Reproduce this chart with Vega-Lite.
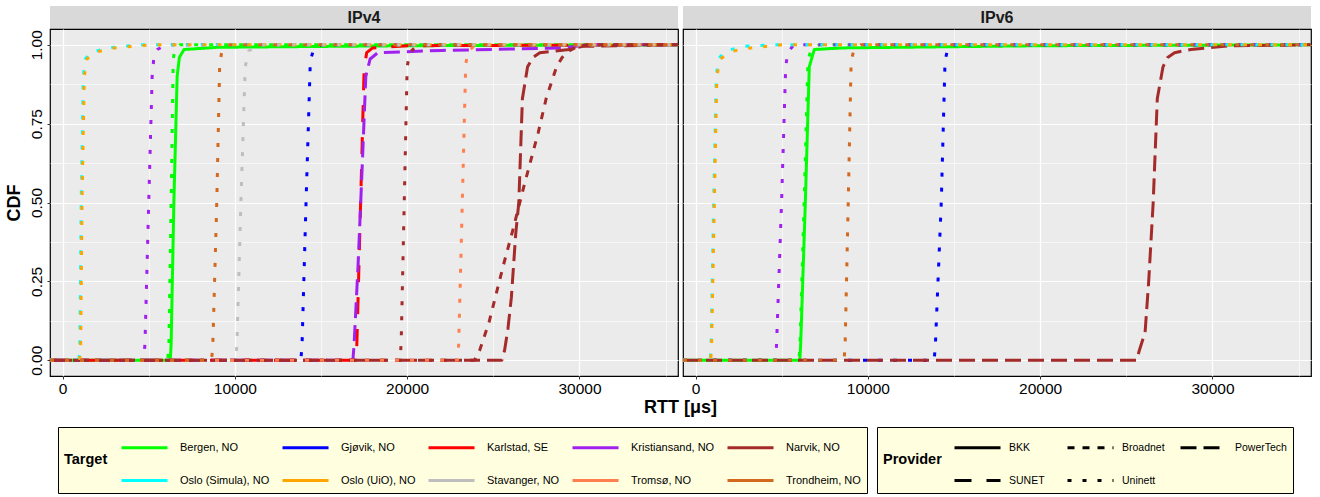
{
  "$schema": "https://vega.github.io/schema/vega-lite/v6.json",
  "padding": {"left": 4, "top": 6, "right": 5, "bottom": 5},
  "background": "white",
  "config": {"font": "Liberation Sans"},
  "datasets": {
    "panels": [{"panel": "IPv4"}, {"panel": "IPv6"}],
    "lines": [
      {"panel":"IPv4","target":"Bergen, NO","provider":"BKK","rtt":-730,"cdf":0},
      {"panel":"IPv4","target":"Bergen, NO","provider":"BKK","rtt":6250,"cdf":0},
      {"panel":"IPv4","target":"Bergen, NO","provider":"BKK","rtt":6300,"cdf":0.05},
      {"panel":"IPv4","target":"Bergen, NO","provider":"BKK","rtt":6460,"cdf":0.5},
      {"panel":"IPv4","target":"Bergen, NO","provider":"BKK","rtt":6650,"cdf":0.9},
      {"panel":"IPv4","target":"Bergen, NO","provider":"BKK","rtt":6780,"cdf":0.96},
      {"panel":"IPv4","target":"Bergen, NO","provider":"BKK","rtt":7050,"cdf":0.985},
      {"panel":"IPv4","target":"Bergen, NO","provider":"BKK","rtt":9000,"cdf":0.992},
      {"panel":"IPv4","target":"Bergen, NO","provider":"BKK","rtt":20000,"cdf":0.997},
      {"panel":"IPv4","target":"Bergen, NO","provider":"BKK","rtt":35720,"cdf":1},

      {"panel":"IPv4","target":"Bergen, NO","provider":"Uninett","rtt":-730,"cdf":0},
      {"panel":"IPv4","target":"Bergen, NO","provider":"Uninett","rtt":6100,"cdf":0},
      {"panel":"IPv4","target":"Bergen, NO","provider":"Uninett","rtt":6170,"cdf":0.05},
      {"panel":"IPv4","target":"Bergen, NO","provider":"Uninett","rtt":6300,"cdf":0.5},
      {"panel":"IPv4","target":"Bergen, NO","provider":"Uninett","rtt":6420,"cdf":0.95},
      {"panel":"IPv4","target":"Bergen, NO","provider":"Uninett","rtt":6500,"cdf":0.985},
      {"panel":"IPv4","target":"Bergen, NO","provider":"Uninett","rtt":6800,"cdf":1},
      {"panel":"IPv4","target":"Bergen, NO","provider":"Uninett","rtt":35720,"cdf":1},

      {"panel":"IPv4","target":"Gjøvik, NO","provider":"Uninett","rtt":-730,"cdf":0},
      {"panel":"IPv4","target":"Gjøvik, NO","provider":"Uninett","rtt":13830,"cdf":0},
      {"panel":"IPv4","target":"Gjøvik, NO","provider":"Uninett","rtt":13900,"cdf":0.05},
      {"panel":"IPv4","target":"Gjøvik, NO","provider":"Uninett","rtt":14130,"cdf":0.5},
      {"panel":"IPv4","target":"Gjøvik, NO","provider":"Uninett","rtt":14380,"cdf":0.95},
      {"panel":"IPv4","target":"Gjøvik, NO","provider":"Uninett","rtt":14600,"cdf":0.99},
      {"panel":"IPv4","target":"Gjøvik, NO","provider":"Uninett","rtt":15000,"cdf":1},
      {"panel":"IPv4","target":"Gjøvik, NO","provider":"Uninett","rtt":35720,"cdf":1},

      {"panel":"IPv4","target":"Karlstad, SE","provider":"SUNET","rtt":-730,"cdf":0},
      {"panel":"IPv4","target":"Karlstad, SE","provider":"SUNET","rtt":17020,"cdf":0},
      {"panel":"IPv4","target":"Karlstad, SE","provider":"SUNET","rtt":17080,"cdf":0.05},
      {"panel":"IPv4","target":"Karlstad, SE","provider":"SUNET","rtt":17300,"cdf":0.5},
      {"panel":"IPv4","target":"Karlstad, SE","provider":"SUNET","rtt":17500,"cdf":0.92},
      {"panel":"IPv4","target":"Karlstad, SE","provider":"SUNET","rtt":17650,"cdf":0.975},
      {"panel":"IPv4","target":"Karlstad, SE","provider":"SUNET","rtt":18000,"cdf":0.99},
      {"panel":"IPv4","target":"Karlstad, SE","provider":"SUNET","rtt":20000,"cdf":0.997},
      {"panel":"IPv4","target":"Karlstad, SE","provider":"SUNET","rtt":35720,"cdf":1},

      {"panel":"IPv4","target":"Kristiansand, NO","provider":"PowerTech","rtt":-730,"cdf":0},
      {"panel":"IPv4","target":"Kristiansand, NO","provider":"PowerTech","rtt":16850,"cdf":0},
      {"panel":"IPv4","target":"Kristiansand, NO","provider":"PowerTech","rtt":16920,"cdf":0.05},
      {"panel":"IPv4","target":"Kristiansand, NO","provider":"PowerTech","rtt":17150,"cdf":0.3},
      {"panel":"IPv4","target":"Kristiansand, NO","provider":"PowerTech","rtt":17380,"cdf":0.6},
      {"panel":"IPv4","target":"Kristiansand, NO","provider":"PowerTech","rtt":17600,"cdf":0.9},
      {"panel":"IPv4","target":"Kristiansand, NO","provider":"PowerTech","rtt":17850,"cdf":0.955},
      {"panel":"IPv4","target":"Kristiansand, NO","provider":"PowerTech","rtt":18300,"cdf":0.975},
      {"panel":"IPv4","target":"Kristiansand, NO","provider":"PowerTech","rtt":22000,"cdf":0.982},
      {"panel":"IPv4","target":"Kristiansand, NO","provider":"PowerTech","rtt":29000,"cdf":0.99},
      {"panel":"IPv4","target":"Kristiansand, NO","provider":"PowerTech","rtt":30500,"cdf":1},
      {"panel":"IPv4","target":"Kristiansand, NO","provider":"PowerTech","rtt":35720,"cdf":1},

      {"panel":"IPv4","target":"Kristiansand, NO","provider":"Uninett","rtt":-730,"cdf":0},
      {"panel":"IPv4","target":"Kristiansand, NO","provider":"Uninett","rtt":4700,"cdf":0},
      {"panel":"IPv4","target":"Kristiansand, NO","provider":"Uninett","rtt":4780,"cdf":0.05},
      {"panel":"IPv4","target":"Kristiansand, NO","provider":"Uninett","rtt":5000,"cdf":0.5},
      {"panel":"IPv4","target":"Kristiansand, NO","provider":"Uninett","rtt":5200,"cdf":0.9},
      {"panel":"IPv4","target":"Kristiansand, NO","provider":"Uninett","rtt":5300,"cdf":0.96},
      {"panel":"IPv4","target":"Kristiansand, NO","provider":"Uninett","rtt":5500,"cdf":0.985},
      {"panel":"IPv4","target":"Kristiansand, NO","provider":"Uninett","rtt":6000,"cdf":1},
      {"panel":"IPv4","target":"Kristiansand, NO","provider":"Uninett","rtt":35720,"cdf":1},

      {"panel":"IPv4","target":"Narvik, NO","provider":"Uninett","rtt":-730,"cdf":0},
      {"panel":"IPv4","target":"Narvik, NO","provider":"Uninett","rtt":19580,"cdf":0},
      {"panel":"IPv4","target":"Narvik, NO","provider":"Uninett","rtt":19650,"cdf":0.05},
      {"panel":"IPv4","target":"Narvik, NO","provider":"Uninett","rtt":19830,"cdf":0.5},
      {"panel":"IPv4","target":"Narvik, NO","provider":"Uninett","rtt":20000,"cdf":0.93},
      {"panel":"IPv4","target":"Narvik, NO","provider":"Uninett","rtt":20150,"cdf":0.975},
      {"panel":"IPv4","target":"Narvik, NO","provider":"Uninett","rtt":20600,"cdf":1},
      {"panel":"IPv4","target":"Narvik, NO","provider":"Uninett","rtt":35720,"cdf":1},

      {"panel":"IPv4","target":"Narvik, NO","provider":"PowerTech","rtt":-730,"cdf":0},
      {"panel":"IPv4","target":"Narvik, NO","provider":"PowerTech","rtt":25500,"cdf":0},
      {"panel":"IPv4","target":"Narvik, NO","provider":"PowerTech","rtt":25650,"cdf":0.03},
      {"panel":"IPv4","target":"Narvik, NO","provider":"PowerTech","rtt":25850,"cdf":0.1},
      {"panel":"IPv4","target":"Narvik, NO","provider":"PowerTech","rtt":26050,"cdf":0.2},
      {"panel":"IPv4","target":"Narvik, NO","provider":"PowerTech","rtt":26300,"cdf":0.4},
      {"panel":"IPv4","target":"Narvik, NO","provider":"PowerTech","rtt":26480,"cdf":0.5},
      {"panel":"IPv4","target":"Narvik, NO","provider":"PowerTech","rtt":26690,"cdf":0.83},
      {"panel":"IPv4","target":"Narvik, NO","provider":"PowerTech","rtt":26990,"cdf":0.93},
      {"panel":"IPv4","target":"Narvik, NO","provider":"PowerTech","rtt":27300,"cdf":0.96},
      {"panel":"IPv4","target":"Narvik, NO","provider":"PowerTech","rtt":27700,"cdf":0.975},
      {"panel":"IPv4","target":"Narvik, NO","provider":"PowerTech","rtt":29400,"cdf":0.985},
      {"panel":"IPv4","target":"Narvik, NO","provider":"PowerTech","rtt":30200,"cdf":0.995},
      {"panel":"IPv4","target":"Narvik, NO","provider":"PowerTech","rtt":35720,"cdf":1},

      {"panel":"IPv4","target":"Narvik, NO","provider":"Broadnet","rtt":-730,"cdf":0},
      {"panel":"IPv4","target":"Narvik, NO","provider":"Broadnet","rtt":23900,"cdf":0},
      {"panel":"IPv4","target":"Narvik, NO","provider":"Broadnet","rtt":24200,"cdf":0.03},
      {"panel":"IPv4","target":"Narvik, NO","provider":"Broadnet","rtt":24750,"cdf":0.12},
      {"panel":"IPv4","target":"Narvik, NO","provider":"Broadnet","rtt":25580,"cdf":0.3},
      {"panel":"IPv4","target":"Narvik, NO","provider":"Broadnet","rtt":26170,"cdf":0.42},
      {"panel":"IPv4","target":"Narvik, NO","provider":"Broadnet","rtt":26770,"cdf":0.55},
      {"panel":"IPv4","target":"Narvik, NO","provider":"Broadnet","rtt":27600,"cdf":0.72},
      {"panel":"IPv4","target":"Narvik, NO","provider":"Broadnet","rtt":28070,"cdf":0.83},
      {"panel":"IPv4","target":"Narvik, NO","provider":"Broadnet","rtt":28670,"cdf":0.93},
      {"panel":"IPv4","target":"Narvik, NO","provider":"Broadnet","rtt":29000,"cdf":0.96},
      {"panel":"IPv4","target":"Narvik, NO","provider":"Broadnet","rtt":29260,"cdf":0.976},
      {"panel":"IPv4","target":"Narvik, NO","provider":"Broadnet","rtt":29730,"cdf":0.99},
      {"panel":"IPv4","target":"Narvik, NO","provider":"Broadnet","rtt":30500,"cdf":1},
      {"panel":"IPv4","target":"Narvik, NO","provider":"Broadnet","rtt":35720,"cdf":1},

      {"panel":"IPv4","target":"Oslo (Simula), NO","provider":"Uninett","rtt":-730,"cdf":0},
      {"panel":"IPv4","target":"Oslo (Simula), NO","provider":"Uninett","rtt":950,"cdf":0},
      {"panel":"IPv4","target":"Oslo (Simula), NO","provider":"Uninett","rtt":1000,"cdf":0.05},
      {"panel":"IPv4","target":"Oslo (Simula), NO","provider":"Uninett","rtt":1080,"cdf":0.5},
      {"panel":"IPv4","target":"Oslo (Simula), NO","provider":"Uninett","rtt":1200,"cdf":0.9},
      {"panel":"IPv4","target":"Oslo (Simula), NO","provider":"Uninett","rtt":1320,"cdf":0.955},
      {"panel":"IPv4","target":"Oslo (Simula), NO","provider":"Uninett","rtt":1600,"cdf":0.975},
      {"panel":"IPv4","target":"Oslo (Simula), NO","provider":"Uninett","rtt":2600,"cdf":0.99},
      {"panel":"IPv4","target":"Oslo (Simula), NO","provider":"Uninett","rtt":4500,"cdf":1},
      {"panel":"IPv4","target":"Oslo (Simula), NO","provider":"Uninett","rtt":35720,"cdf":1},

      {"panel":"IPv4","target":"Oslo (UiO), NO","provider":"Uninett","rtt":-730,"cdf":0},
      {"panel":"IPv4","target":"Oslo (UiO), NO","provider":"Uninett","rtt":1000,"cdf":0},
      {"panel":"IPv4","target":"Oslo (UiO), NO","provider":"Uninett","rtt":1050,"cdf":0.05},
      {"panel":"IPv4","target":"Oslo (UiO), NO","provider":"Uninett","rtt":1130,"cdf":0.5},
      {"panel":"IPv4","target":"Oslo (UiO), NO","provider":"Uninett","rtt":1260,"cdf":0.9},
      {"panel":"IPv4","target":"Oslo (UiO), NO","provider":"Uninett","rtt":1420,"cdf":0.955},
      {"panel":"IPv4","target":"Oslo (UiO), NO","provider":"Uninett","rtt":1800,"cdf":0.975},
      {"panel":"IPv4","target":"Oslo (UiO), NO","provider":"Uninett","rtt":3000,"cdf":0.99},
      {"panel":"IPv4","target":"Oslo (UiO), NO","provider":"Uninett","rtt":5200,"cdf":1},
      {"panel":"IPv4","target":"Oslo (UiO), NO","provider":"Uninett","rtt":35720,"cdf":1},

      {"panel":"IPv4","target":"Stavanger, NO","provider":"Uninett","rtt":-730,"cdf":0},
      {"panel":"IPv4","target":"Stavanger, NO","provider":"Uninett","rtt":10050,"cdf":0},
      {"panel":"IPv4","target":"Stavanger, NO","provider":"Uninett","rtt":10120,"cdf":0.05},
      {"panel":"IPv4","target":"Stavanger, NO","provider":"Uninett","rtt":10350,"cdf":0.5},
      {"panel":"IPv4","target":"Stavanger, NO","provider":"Uninett","rtt":10600,"cdf":0.93},
      {"panel":"IPv4","target":"Stavanger, NO","provider":"Uninett","rtt":10800,"cdf":0.98},
      {"panel":"IPv4","target":"Stavanger, NO","provider":"Uninett","rtt":11300,"cdf":1},
      {"panel":"IPv4","target":"Stavanger, NO","provider":"Uninett","rtt":35720,"cdf":1},

      {"panel":"IPv4","target":"Tromsø, NO","provider":"Uninett","rtt":-730,"cdf":0},
      {"panel":"IPv4","target":"Tromsø, NO","provider":"Uninett","rtt":22920,"cdf":0},
      {"panel":"IPv4","target":"Tromsø, NO","provider":"Uninett","rtt":22990,"cdf":0.05},
      {"panel":"IPv4","target":"Tromsø, NO","provider":"Uninett","rtt":23200,"cdf":0.5},
      {"panel":"IPv4","target":"Tromsø, NO","provider":"Uninett","rtt":23400,"cdf":0.94},
      {"panel":"IPv4","target":"Tromsø, NO","provider":"Uninett","rtt":23550,"cdf":0.98},
      {"panel":"IPv4","target":"Tromsø, NO","provider":"Uninett","rtt":24000,"cdf":1},
      {"panel":"IPv4","target":"Tromsø, NO","provider":"Uninett","rtt":35720,"cdf":1},

      {"panel":"IPv4","target":"Trondheim, NO","provider":"Uninett","rtt":-730,"cdf":0},
      {"panel":"IPv4","target":"Trondheim, NO","provider":"Uninett","rtt":8650,"cdf":0},
      {"panel":"IPv4","target":"Trondheim, NO","provider":"Uninett","rtt":8720,"cdf":0.05},
      {"panel":"IPv4","target":"Trondheim, NO","provider":"Uninett","rtt":8950,"cdf":0.5},
      {"panel":"IPv4","target":"Trondheim, NO","provider":"Uninett","rtt":9120,"cdf":0.94},
      {"panel":"IPv4","target":"Trondheim, NO","provider":"Uninett","rtt":9250,"cdf":0.98},
      {"panel":"IPv4","target":"Trondheim, NO","provider":"Uninett","rtt":9600,"cdf":1},
      {"panel":"IPv4","target":"Trondheim, NO","provider":"Uninett","rtt":35720,"cdf":1},

      {"panel":"IPv6","target":"Bergen, NO","provider":"BKK","rtt":-730,"cdf":0},
      {"panel":"IPv6","target":"Bergen, NO","provider":"BKK","rtt":6050,"cdf":0},
      {"panel":"IPv6","target":"Bergen, NO","provider":"BKK","rtt":6100,"cdf":0.05},
      {"panel":"IPv6","target":"Bergen, NO","provider":"BKK","rtt":6370,"cdf":0.5},
      {"panel":"IPv6","target":"Bergen, NO","provider":"BKK","rtt":6600,"cdf":0.93},
      {"panel":"IPv6","target":"Bergen, NO","provider":"BKK","rtt":6890,"cdf":0.985},
      {"panel":"IPv6","target":"Bergen, NO","provider":"BKK","rtt":8500,"cdf":0.99},
      {"panel":"IPv6","target":"Bergen, NO","provider":"BKK","rtt":20000,"cdf":0.997},
      {"panel":"IPv6","target":"Bergen, NO","provider":"BKK","rtt":35720,"cdf":1},

      {"panel":"IPv6","target":"Bergen, NO","provider":"Uninett","rtt":-730,"cdf":0},
      {"panel":"IPv6","target":"Bergen, NO","provider":"Uninett","rtt":6000,"cdf":0},
      {"panel":"IPv6","target":"Bergen, NO","provider":"Uninett","rtt":6060,"cdf":0.05},
      {"panel":"IPv6","target":"Bergen, NO","provider":"Uninett","rtt":6300,"cdf":0.5},
      {"panel":"IPv6","target":"Bergen, NO","provider":"Uninett","rtt":6520,"cdf":0.95},
      {"panel":"IPv6","target":"Bergen, NO","provider":"Uninett","rtt":6700,"cdf":0.985},
      {"panel":"IPv6","target":"Bergen, NO","provider":"Uninett","rtt":7200,"cdf":1},
      {"panel":"IPv6","target":"Bergen, NO","provider":"Uninett","rtt":35720,"cdf":1},

      {"panel":"IPv6","target":"Gjøvik, NO","provider":"Uninett","rtt":-730,"cdf":0},
      {"panel":"IPv6","target":"Gjøvik, NO","provider":"Uninett","rtt":13850,"cdf":0},
      {"panel":"IPv6","target":"Gjøvik, NO","provider":"Uninett","rtt":13920,"cdf":0.05},
      {"panel":"IPv6","target":"Gjøvik, NO","provider":"Uninett","rtt":14260,"cdf":0.5},
      {"panel":"IPv6","target":"Gjøvik, NO","provider":"Uninett","rtt":14480,"cdf":0.95},
      {"panel":"IPv6","target":"Gjøvik, NO","provider":"Uninett","rtt":14650,"cdf":0.99},
      {"panel":"IPv6","target":"Gjøvik, NO","provider":"Uninett","rtt":15000,"cdf":1},
      {"panel":"IPv6","target":"Gjøvik, NO","provider":"Uninett","rtt":35720,"cdf":1},

      {"panel":"IPv6","target":"Kristiansand, NO","provider":"Uninett","rtt":-730,"cdf":0},
      {"panel":"IPv6","target":"Kristiansand, NO","provider":"Uninett","rtt":4650,"cdf":0},
      {"panel":"IPv6","target":"Kristiansand, NO","provider":"Uninett","rtt":4700,"cdf":0.05},
      {"panel":"IPv6","target":"Kristiansand, NO","provider":"Uninett","rtt":4990,"cdf":0.5},
      {"panel":"IPv6","target":"Kristiansand, NO","provider":"Uninett","rtt":5230,"cdf":0.93},
      {"panel":"IPv6","target":"Kristiansand, NO","provider":"Uninett","rtt":5350,"cdf":0.975},
      {"panel":"IPv6","target":"Kristiansand, NO","provider":"Uninett","rtt":5700,"cdf":1},
      {"panel":"IPv6","target":"Kristiansand, NO","provider":"Uninett","rtt":35720,"cdf":1},

      {"panel":"IPv6","target":"Narvik, NO","provider":"PowerTech","rtt":-730,"cdf":0},
      {"panel":"IPv6","target":"Narvik, NO","provider":"PowerTech","rtt":25600,"cdf":0},
      {"panel":"IPv6","target":"Narvik, NO","provider":"PowerTech","rtt":25750,"cdf":0.03},
      {"panel":"IPv6","target":"Narvik, NO","provider":"PowerTech","rtt":26090,"cdf":0.088},
      {"panel":"IPv6","target":"Narvik, NO","provider":"PowerTech","rtt":26300,"cdf":0.25},
      {"panel":"IPv6","target":"Narvik, NO","provider":"PowerTech","rtt":26560,"cdf":0.5},
      {"panel":"IPv6","target":"Narvik, NO","provider":"PowerTech","rtt":26800,"cdf":0.83},
      {"panel":"IPv6","target":"Narvik, NO","provider":"PowerTech","rtt":27130,"cdf":0.93},
      {"panel":"IPv6","target":"Narvik, NO","provider":"PowerTech","rtt":27400,"cdf":0.96},
      {"panel":"IPv6","target":"Narvik, NO","provider":"PowerTech","rtt":27800,"cdf":0.975},
      {"panel":"IPv6","target":"Narvik, NO","provider":"PowerTech","rtt":28750,"cdf":0.985},
      {"panel":"IPv6","target":"Narvik, NO","provider":"PowerTech","rtt":31100,"cdf":0.997},
      {"panel":"IPv6","target":"Narvik, NO","provider":"PowerTech","rtt":35720,"cdf":1},

      {"panel":"IPv6","target":"Oslo (Simula), NO","provider":"Uninett","rtt":-730,"cdf":0},
      {"panel":"IPv6","target":"Oslo (Simula), NO","provider":"Uninett","rtt":850,"cdf":0},
      {"panel":"IPv6","target":"Oslo (Simula), NO","provider":"Uninett","rtt":900,"cdf":0.05},
      {"panel":"IPv6","target":"Oslo (Simula), NO","provider":"Uninett","rtt":1050,"cdf":0.5},
      {"panel":"IPv6","target":"Oslo (Simula), NO","provider":"Uninett","rtt":1200,"cdf":0.9},
      {"panel":"IPv6","target":"Oslo (Simula), NO","provider":"Uninett","rtt":1330,"cdf":0.955},
      {"panel":"IPv6","target":"Oslo (Simula), NO","provider":"Uninett","rtt":1700,"cdf":0.98},
      {"panel":"IPv6","target":"Oslo (Simula), NO","provider":"Uninett","rtt":2800,"cdf":0.995},
      {"panel":"IPv6","target":"Oslo (Simula), NO","provider":"Uninett","rtt":4500,"cdf":1},
      {"panel":"IPv6","target":"Oslo (Simula), NO","provider":"Uninett","rtt":35720,"cdf":1},

      {"panel":"IPv6","target":"Oslo (UiO), NO","provider":"Uninett","rtt":-730,"cdf":0},
      {"panel":"IPv6","target":"Oslo (UiO), NO","provider":"Uninett","rtt":880,"cdf":0},
      {"panel":"IPv6","target":"Oslo (UiO), NO","provider":"Uninett","rtt":930,"cdf":0.05},
      {"panel":"IPv6","target":"Oslo (UiO), NO","provider":"Uninett","rtt":1090,"cdf":0.5},
      {"panel":"IPv6","target":"Oslo (UiO), NO","provider":"Uninett","rtt":1235,"cdf":0.9},
      {"panel":"IPv6","target":"Oslo (UiO), NO","provider":"Uninett","rtt":1425,"cdf":0.955},
      {"panel":"IPv6","target":"Oslo (UiO), NO","provider":"Uninett","rtt":2140,"cdf":0.98},
      {"panel":"IPv6","target":"Oslo (UiO), NO","provider":"Uninett","rtt":3200,"cdf":0.99},
      {"panel":"IPv6","target":"Oslo (UiO), NO","provider":"Uninett","rtt":5000,"cdf":1},
      {"panel":"IPv6","target":"Oslo (UiO), NO","provider":"Uninett","rtt":35720,"cdf":1},

      {"panel":"IPv6","target":"Trondheim, NO","provider":"Uninett","rtt":-730,"cdf":0},
      {"panel":"IPv6","target":"Trondheim, NO","provider":"Uninett","rtt":8620,"cdf":0},
      {"panel":"IPv6","target":"Trondheim, NO","provider":"Uninett","rtt":8680,"cdf":0.05},
      {"panel":"IPv6","target":"Trondheim, NO","provider":"Uninett","rtt":8860,"cdf":0.5},
      {"panel":"IPv6","target":"Trondheim, NO","provider":"Uninett","rtt":9030,"cdf":0.95},
      {"panel":"IPv6","target":"Trondheim, NO","provider":"Uninett","rtt":9200,"cdf":0.985},
      {"panel":"IPv6","target":"Trondheim, NO","provider":"Uninett","rtt":9600,"cdf":1},
      {"panel":"IPv6","target":"Trondheim, NO","provider":"Uninett","rtt":35720,"cdf":1}
    ]
  },
  "columns": 2,
  "spacing": {"row": 0, "column": 5},
  "bounds": "flush",
  "concat": [
    {
      "width": 628, "height": 23,
      "view": {"fill": "#D9D9D9", "stroke": null},
      "data": {"name": "panels"},
      "transform": [{"filter": "datum.panel === 'IPv4'"}],
      "mark": {"type": "text", "fontSize": 16, "fontWeight": "bold", "color": "#1A1A1A", "font": "Liberation Sans"},
      "encoding": {"text": {"field": "panel"}}
    },
    {
      "width": 628, "height": 23,
      "view": {"fill": "#D9D9D9", "stroke": null},
      "data": {"name": "panels"},
      "transform": [{"filter": "datum.panel === 'IPv6'"}],
      "mark": {"type": "text", "fontSize": 16, "fontWeight": "bold", "color": "#1A1A1A", "font": "Liberation Sans"},
      "encoding": {"text": {"field": "panel"}}
    },
    {
      "width": 628, "height": 347,
      "view": {"fill": "#EBEBEB", "stroke": "#000000", "strokeWidth": 1.2},
      "data": {"name": "lines"},
      "transform": [{"filter": "datum.panel === 'IPv4'"}],
      "resolve": {"axis": {"x": "independent", "y": "independent"}},
      "layer": [
        {
          "mark": {"type": "line", "opacity": 0},
          "encoding": {
            "x": {"field": "rtt", "type": "quantitative", "scale": {"domain": [-730, 35720], "nice": false, "zero": false},
              "axis": {"orient": "bottom", "values": [5000, 15000, 25000, 35000], "grid": true, "gridColor": "#FFFFFF", "gridWidth": 0.6, "labels": false, "ticks": false, "domain": false, "title": null}},
            "y": {"field": "cdf", "type": "quantitative", "scale": {"domain": [-0.05, 1.05], "nice": false, "zero": false},
              "axis": {"orient": "left", "values": [0.125, 0.375, 0.625, 0.875], "grid": true, "gridColor": "#FFFFFF", "gridWidth": 0.6, "labels": false, "ticks": false, "domain": false, "title": null}}
          }
        },
        {
          "mark": {"type": "line", "strokeWidth": 3, "strokeCap": "butt", "strokeJoin": "round"},
          "encoding": {
            "x": {"field": "rtt", "type": "quantitative", "scale": {"domain": [-730, 35720], "nice": false, "zero": false},
              "axis": {"orient": "bottom", "values": [0, 10000, 20000, 30000], "format": "d", "grid": true, "gridColor": "#FFFFFF", "gridWidth": 1.2, "domain": false,
                "ticks": true, "tickColor": "#333333", "tickSize": 3, "tickWidth": 1, "labelFontSize": 15.5, "labelColor": "#000000", "labelPadding": 2, "labelFont": "Liberation Sans",
                "title": "RTT [μs]", "titleFontSize": 18, "titleFontWeight": "bold", "titleColor": "#000000", "titleFont": "Liberation Sans", "titleX": 630, "titleY": 22, "titleAlign": "center", "titleBaseline": "top"}},
            "y": {"field": "cdf", "type": "quantitative", "scale": {"domain": [-0.05, 1.05], "nice": false, "zero": false},
              "axis": {"orient": "left", "values": [0, 0.25, 0.5, 0.75, 1], "format": ".2f", "grid": true, "gridColor": "#FFFFFF", "gridWidth": 1.2, "domain": false,
                "ticks": true, "tickColor": "#333333", "tickSize": 3, "tickWidth": 1, "labelFontSize": 15.5, "labelColor": "#000000", "labelPadding": 3, "labelAngle": 270, "labelFont": "Liberation Sans",
                "title": "CDF", "titleFontSize": 18, "titleFontWeight": "bold", "titleColor": "#000000", "titleFont": "Liberation Sans", "titlePadding": 6}},
            "color": {"field": "target", "type": "nominal",
              "scale": {"domain": ["Bergen, NO", "Gjøvik, NO", "Karlstad, SE", "Kristiansand, NO", "Narvik, NO", "Oslo (Simula), NO", "Oslo (UiO), NO", "Stavanger, NO", "Tromsø, NO", "Trondheim, NO"],
                "range": ["#00FF00", "#0000FF", "#FF0000", "#A020F0", "#A52A2A", "#00FFFF", "#FFA500", "#BEBEBE", "#FF7F50", "#D2691E"]},
              "legend": {"title": "Target", "orient": "none", "legendX": 8, "legendY": 421, "direction": "horizontal", "columns": 5,
                "titleOrient": "left", "titleAnchor": "middle", "titleBaseline": "middle", "titleFontSize": 14.5, "titleFontWeight": "bold", "titleColor": "#000000", "titleFont": "Liberation Sans", "titlePadding": 12,
                "labelFontSize": 11, "labelColor": "#000000", "labelFont": "Liberation Sans", "labelOffset": 31,
                "symbolType": "M-1,0H2.54", "symbolSize": 676, "symbolStrokeWidth": 3,
                "rowPadding": 12, "columnPadding": 6, "padding": 6,
                "fillColor": "#FFFFE0", "strokeColor": "#000000"}},
            "strokeDash": {"field": "provider", "type": "nominal",
              "scale": {"domain": ["BKK", "Broadnet", "PowerTech", "SUNET", "Uninett"],
                "range": [[1, 0], [7, 8], [16, 7], [17, 15], [4, 11]]},
              "legend": {"title": "Provider", "orient": "none", "legendX": 827, "legendY": 421, "direction": "horizontal", "columns": 3, "gridAlign": "all",
                "titleOrient": "left", "titleAnchor": "middle", "titleBaseline": "middle", "titleFontSize": 14.5, "titleFontWeight": "bold", "titleColor": "#000000", "titleFont": "Liberation Sans", "titlePadding": 11,
                "labelFontSize": 10.5, "labelColor": "#000000", "labelFont": "Liberation Sans", "labelOffset": 27,
                "symbolType": "M-1,0H2.54", "symbolSize": 676, "symbolStrokeWidth": 3, "symbolStrokeColor": "#000000",
                "rowPadding": 12, "columnPadding": 0, "padding": 6,
                "fillColor": "#FFFFE0", "strokeColor": "#000000"}}
          }
        }
      ]
    },
    {
      "width": 628, "height": 347,
      "view": {"fill": "#EBEBEB", "stroke": "#000000", "strokeWidth": 1.2},
      "data": {"name": "lines"},
      "transform": [{"filter": "datum.panel === 'IPv6'"}],
      "resolve": {"axis": {"x": "independent", "y": "independent"}},
      "layer": [
        {
          "mark": {"type": "line", "opacity": 0},
          "encoding": {
            "x": {"field": "rtt", "type": "quantitative", "scale": {"domain": [-730, 35720], "nice": false, "zero": false},
              "axis": {"orient": "bottom", "values": [5000, 15000, 25000, 35000], "grid": true, "gridColor": "#FFFFFF", "gridWidth": 0.6, "labels": false, "ticks": false, "domain": false, "title": null}},
            "y": {"field": "cdf", "type": "quantitative", "scale": {"domain": [-0.05, 1.05], "nice": false, "zero": false},
              "axis": {"orient": "left", "values": [0.125, 0.375, 0.625, 0.875], "grid": true, "gridColor": "#FFFFFF", "gridWidth": 0.6, "labels": false, "ticks": false, "domain": false, "title": null}}
          }
        },
        {
          "mark": {"type": "line", "strokeWidth": 3, "strokeCap": "butt", "strokeJoin": "round"},
          "encoding": {
            "x": {"field": "rtt", "type": "quantitative", "scale": {"domain": [-730, 35720], "nice": false, "zero": false},
              "axis": {"orient": "bottom", "values": [0, 10000, 20000, 30000], "format": "d", "grid": true, "gridColor": "#FFFFFF", "gridWidth": 1.2, "domain": false,
                "ticks": true, "tickColor": "#333333", "tickSize": 3, "tickWidth": 1, "labelFontSize": 15.5, "labelColor": "#000000", "labelPadding": 2, "labelFont": "Liberation Sans", "title": null}},
            "y": {"field": "cdf", "type": "quantitative", "scale": {"domain": [-0.05, 1.05], "nice": false, "zero": false},
              "axis": {"orient": "left", "values": [0, 0.25, 0.5, 0.75, 1], "grid": true, "gridColor": "#FFFFFF", "gridWidth": 1.2, "domain": false, "ticks": false, "labels": false, "title": null}},
            "color": {"field": "target", "type": "nominal",
              "scale": {"domain": ["Bergen, NO", "Gjøvik, NO", "Karlstad, SE", "Kristiansand, NO", "Narvik, NO", "Oslo (Simula), NO", "Oslo (UiO), NO", "Stavanger, NO", "Tromsø, NO", "Trondheim, NO"],
                "range": ["#00FF00", "#0000FF", "#FF0000", "#A020F0", "#A52A2A", "#00FFFF", "#FFA500", "#BEBEBE", "#FF7F50", "#D2691E"]}},
            "strokeDash": {"field": "provider", "type": "nominal",
              "scale": {"domain": ["BKK", "Broadnet", "PowerTech", "SUNET", "Uninett"],
                "range": [[1, 0], [7, 8], [16, 7], [17, 15], [4, 11]]}}
          }
        }
      ]
    }
  ]
}
